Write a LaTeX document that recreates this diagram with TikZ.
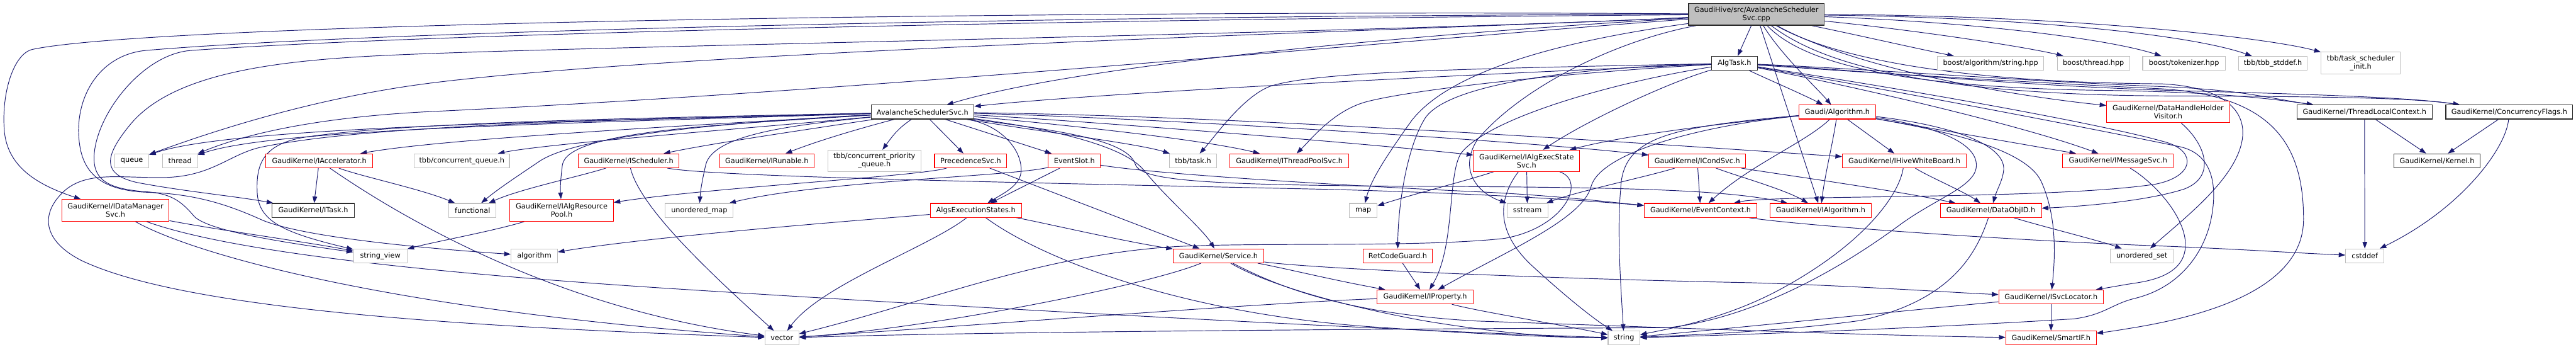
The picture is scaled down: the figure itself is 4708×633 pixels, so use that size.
\documentclass[tikz,border=0pt]{standalone}
\usepackage{fontspec}
\setmainfont{DejaVu Sans}
\usetikzlibrary{arrows.meta}
\definecolor{edgecol}{HTML}{191970}
\definecolor{graybd}{HTML}{BFBFBF}
\definecolor{redbd}{HTML}{FF0000}
\definecolor{blkbd}{HTML}{2B2B2B}
\definecolor{mainfill}{HTML}{BFBFBF}
\pgfdeclarelayer{bg}
\pgfsetlayers{bg,main}
\begin{document}
\begin{tikzpicture}[x=1pt,y=-1pt,
  box/.style={rectangle,draw,line width=1.2pt,fill=white,inner sep=0pt,align=center,
    font=\fontsize{13}{15}\selectfont,minimum height=25.5pt},
  gbox/.style={box,draw=graybd},
  rbox/.style={box,draw=redbd},
  kbox/.style={box,draw=blkbd},
  conn/.style={draw=edgecol,line width=1.1pt,-{Triangle[length=12pt,width=8.5pt]}}]
\useasboundingbox (0,0) rectangle (4708,633);
% ---------- nodes ----------
\node[kbox,fill=mainfill,line width=1.6pt,minimum width=248pt,minimum height=40pt] (M) at (3210,26) {GaudiHive/src/AvalancheScheduler\\Svc.cpp};
\node[kbox,minimum width=84pt] (AT) at (3170,115.5) {AlgTask.h};
\node[gbox,minimum width=195pt] (BAS) at (3638,115.5) {boost/algorithm/string.hpp};
\node[gbox,minimum width=132pt] (BT) at (3826,115.5) {boost/thread.hpp};
\node[gbox,minimum width=151pt] (BTK) at (3991.5,115.5) {boost/tokenizer.hpp};
\node[gbox,minimum width=126pt] (TSD) at (4154,115.5) {tbb/tbb\_stddef.h};
\node[gbox,minimum width=145pt,minimum height=40pt] (TSI) at (4314.5,115) {tbb/task\_scheduler\\\_init.h};
\node[kbox,minimum width=188pt] (ASH) at (1686,204.5) {AvalancheSchedulerSvc.h};
\node[rbox,minimum width=140pt] (GA) at (3358,204.5) {Gaudi/Algorithm.h};
\node[rbox,minimum width=225pt,minimum height=40pt] (DHV) at (3962.5,204) {GaudiKernel/DataHandleHolder\\Visitor.h};
\node[kbox,minimum width=247pt] (TLC) at (4321.5,204.5) {GaudiKernel/ThreadLocalContext.h};
\node[kbox,minimum width=232pt] (CF) at (4586,204.5) {GaudiKernel/ConcurrencyFlags.h};
\node[gbox,minimum width=62pt] (Q) at (241,293.5) {queue};
\node[gbox,minimum width=64pt] (TH) at (329,293.5) {thread};
\node[rbox,minimum width=195pt] (IACC) at (583.5,293.5) {GaudiKernel/IAccelerator.h};
\node[gbox,minimum width=174pt] (TCQ) at (844,293.5) {tbb/concurrent\_queue.h};
\node[rbox,minimum width=184pt] (ISCH) at (1149,293.5) {GaudiKernel/IScheduler.h};
\node[rbox,minimum width=173pt] (IRUN) at (1401.5,293.5) {GaudiKernel/IRunable.h};
\node[gbox,minimum width=170pt,minimum height=39pt] (TCPQ) at (1598,293.5) {tbb/concurrent\_priority\\\_queue.h};
\node[rbox,minimum width=132pt] (PRS) at (1774,293.5) {PrecedenceSvc.h};
\node[rbox,minimum width=95pt] (ES) at (1963.5,293.5) {EventSlot.h};
\node[gbox,minimum width=87pt] (TT) at (2180.5,293.5) {tbb/task.h};
\node[rbox,minimum width=217pt] (ITP) at (2356.5,293.5) {GaudiKernel/IThreadPoolSvc.h};
\node[rbox,minimum width=194pt,minimum height=39pt] (IAES) at (2790,293.5) {GaudiKernel/IAlgExecState\\Svc.h};
\node[rbox,minimum width=177pt] (ICS) at (3102,293.5) {GaudiKernel/ICondSvc.h};
\node[rbox,minimum width=227pt] (IHWB) at (3480.5,293.5) {GaudiKernel/IHiveWhiteBoard.h};
\node[rbox,minimum width=202pt] (IMS) at (3871,293.5) {GaudiKernel/IMessageSvc.h};
\node[kbox,minimum width=158pt] (KER) at (4454,293.5) {GaudiKernel/Kernel.h};
\node[rbox,minimum width=196pt,minimum height=40pt] (IDM) at (211,384) {GaudiKernel/IDataManager\\Svc.h};
\node[kbox,minimum width=151pt] (ITASK) at (572.5,384) {GaudiKernel/ITask.h};
\node[gbox,minimum width=86pt] (FUN) at (863.5,384) {functional};
\node[rbox,minimum width=189pt,minimum height=40pt] (IARP) at (1026.5,384) {GaudiKernel/IAlgResource\\Pool.h};
\node[gbox,minimum width=124pt] (UMAP) at (1278,384) {unordered\_map};
\node[rbox,minimum width=167pt] (AES) at (1783.5,384) {AlgsExecutionStates.h};
\node[gbox,minimum width=51pt] (MAP) at (2491.5,384) {map};
\node[gbox,minimum width=75pt] (SST) at (2791.5,384) {sstream};
\node[rbox,minimum width=206pt] (EC) at (3108,384) {GaudiKernel/EventContext.h};
\node[rbox,minimum width=185pt] (IALG) at (3327.5,384) {GaudiKernel/IAlgorithm.h};
\node[rbox,minimum width=185pt] (DOID) at (3638.5,384) {GaudiKernel/DataObjID.h};
\node[gbox,minimum width=98pt] (SV) at (695,467) {string\_view};
\node[gbox,minimum width=85pt] (ALGO) at (976.5,467) {algorithm};
\node[rbox,minimum width=166pt] (SVC) at (2227,467) {GaudiKernel/Service.h};
\node[rbox,minimum width=127pt] (RCG) at (2554.5,467) {RetCodeGuard.h};
\node[gbox,minimum width=115pt] (USET) at (3914.5,467) {unordered\_set};
\node[gbox,minimum width=70pt] (CSTD) at (4322,467) {cstddef};
\node[rbox,minimum width=175pt] (IPROP) at (2604.5,542) {GaudiKernel/IProperty.h};
\node[rbox,minimum width=191pt] (ISL) at (3748.5,542) {GaudiKernel/ISvcLocator.h};
\node[gbox,minimum width=62pt] (VEC) at (1429,617) {vector};
\node[gbox,minimum width=58pt] (STR) at (2968,617) {string};
\node[rbox,minimum width=165pt] (SIF) at (3748.5,617) {GaudiKernel/SmartIF.h};
% ---------- edges ----------
\begin{pgfonlayer}{bg}
\fill[white] (0,0) rectangle (4708,633);
% from main
\draw[conn] (M) -- (AT);
\draw[conn] (M) .. controls (3400,65) and (3500,88) .. (BAS);
\draw[conn] (M) .. controls (3500,55) and (3700,85) .. (BT);
\draw[conn] (M) .. controls (3600,40) and (3850,70) .. (BTK);
\draw[conn] (M) .. controls (3700,32) and (4000,62) .. (TSD);
\draw[conn] (M) .. controls (3800,28) and (4150,70) .. (TSI);
\draw[conn] (M) .. controls (3255,100) and (3320,160) .. (GA);
\draw[conn] (M) -- (IALG);
\draw[conn] (M) .. controls (3380,120) and (3650,172) .. (DHV);
\draw[conn] (M) .. controls (3290,110) and (3450,160) .. (3850,165) .. controls (4050,168) and (4150,180) .. (TLC);
\draw[conn] (M) .. controls (3320,110) and (3500,172) .. (3950,175) .. controls (4300,176) and (4420,180) .. (CF);
\draw[conn] (M) .. controls (3340,100) and (3550,150) .. (3950,153) .. controls (4060,158) and (4110,200) .. (4097,260) .. controls (4082,330) and (3990,400) .. (USET);
\draw[conn] (M) .. controls (2850,75) and (2650,130) .. (2580,220) .. controls (2530,290) and (2505,330) .. (MAP);
\draw[conn] (M) .. controls (2950,75) and (2780,160) .. (2700,255) .. controls (2665,310) and (2700,352) .. (SST);
\draw[conn] (M) .. controls (2700,55) and (2000,110) .. (ASH);
\draw[conn] (M) .. controls (2000,18) and (300,40) .. (60,90) .. controls (25,97) and (2,170) .. (8,240) .. controls (14,300) and (60,335) .. (IDM);
\draw[conn] (M) .. controls (2600,55) and (1300,90) .. (800,150) .. controls (600,174) and (420,228) .. (Q);
\draw[conn] (M) .. controls (2600,70) and (1600,165) .. (800,203) .. controls (600,212) and (460,240) .. (TH);
\draw[conn] (M) .. controls (2000,35) and (800,60) .. (350,92) .. controls (260,98) and (175,210) .. (172,285) .. controls (170,330) and (200,345) .. (267,350) .. controls (310,353) and (330,365) .. (355,395) .. controls (380,420) and (500,440) .. (SV);
\draw[conn] (M) .. controls (2000,28) and (700,55) .. (267,92) .. controls (180,100) and (135,180) .. (145,260) .. controls (152,320) and (190,348) .. (270,351) .. controls (360,354) and (420,375) .. (480,402) .. controls (560,435) and (800,455) .. (ALGO);
\draw[conn] (M) .. controls (2500,60) and (1200,82) .. (780,98) .. controls (560,106) and (330,120) .. (240,225) .. controls (190,285) and (185,318) .. (250,333) .. controls (340,350) and (430,358) .. (ITASK);
% from AlgTask.h
\draw[conn] (AT) .. controls (2700,135) and (2000,170) .. (ASH);
\draw[conn] (AT) .. controls (2700,125) and (2400,130) .. (2320,158) .. controls (2270,178) and (2220,250) .. (TT);
\draw[conn] (AT) .. controls (2900,130) and (2600,160) .. (2500,185) .. controls (2440,200) and (2400,250) .. (ITP);
\draw[conn] (AT) .. controls (3050,150) and (2900,220) .. (IAES);
\draw[conn] (AT) .. controls (2900,122) and (2650,150) .. (2605,215) .. controls (2570,270) and (2555,380) .. (RCG);
\draw[conn] (AT) .. controls (2950,150) and (2720,215) .. (2670,280) .. controls (2645,320) and (2660,450) .. (IPROP);
\draw[conn] (AT) .. controls (3220,140) and (3290,170) .. (GA);
\draw[conn] (AT) .. controls (3400,125) and (3700,148) .. (3950,158) .. controls (4100,164) and (4150,180) .. (TLC);
\draw[conn] (AT) .. controls (3400,128) and (3700,158) .. (4000,166) .. controls (4300,174) and (4420,180) .. (CF);
\draw[conn] (AT) .. controls (3500,165) and (3850,228) .. (3960,260) .. controls (4015,277) and (4010,322) .. (3940,336) .. controls (3750,365) and (3240,355) .. (EC);
\draw[conn] (AT) .. controls (3400,160) and (3700,230) .. (IMS);
\draw[conn] (AT) .. controls (3400,132) and (3700,150) .. (3950,162) .. controls (4150,175) and (4210,260) .. (4210,400) .. controls (4210,500) and (4100,565) .. (3900,598) .. controls (3870,603) and (3850,606) .. (SIF);
\draw[conn] (AT) .. controls (3500,172) and (3850,240) .. (3985,268) .. controls (4045,282) and (4052,340) .. (4042,395) .. controls (4030,460) and (3985,525) .. (3900,545) .. controls (3860,555) and (3845,575) .. (3790,582) .. controls (3500,600) and (3150,612) .. (STR);
% from Gaudi/Algorithm.h
\draw[conn] (GA) .. controls (3150,225) and (2980,245) .. (IAES);
\draw[conn] (GA) .. controls (3350,260) and (3335,320) .. (IALG);
\draw[conn] (GA) -- (IHWB);
\draw[conn] (GA) -- (IMS);
\draw[conn] (GA) .. controls (3560,228) and (3665,262) .. (3662,310) .. controls (3660,330) and (3650,345) .. (DOID);
\draw[conn] (GA) .. controls (3550,238) and (3700,270) .. (3730,330) .. controls (3760,395) and (3756,470) .. (ISL);
\draw[conn] (GA) .. controls (3300,260) and (3200,300) .. (EC);
\draw[conn] (GA) .. controls (3100,230) and (2925,280) .. (2908,340) .. controls (2893,400) and (2750,460) .. (IPROP);
\draw[conn] (GA) .. controls (3050,232) and (2965,250) .. (2962,345) .. controls (2955,420) and (2962,520) .. (STR);
\draw[conn] (GA) .. controls (3500,225) and (3610,250) .. (3612,300) .. controls (3614,340) and (3540,360) .. (3470,412) .. controls (3350,500) and (3200,580) .. (3050,598) .. controls (2600,600) and (1800,605) .. (VEC);
% from IAlgExecStateSvc.h
\draw[conn] (IAES) .. controls (2740,360) and (2730,420) .. (2800,485) .. controls (2860,540) and (2910,580) .. (STR);
\draw[conn] (IAES) .. controls (2680,330) and (2580,355) .. (MAP);
\draw[conn] (IAES) -- (SST);
\draw[conn] (IAES) .. controls (2900,330) and (2860,415) .. (2750,435) .. controls (2600,452) and (2300,442) .. (2150,450) .. controls (1900,465) and (1700,550) .. (VEC);
% from ICondSvc.h
\draw[conn] (ICS) .. controls (3170,320) and (3260,345) .. (IALG);
\draw[conn] (ICS) .. controls (3250,318) and (3450,345) .. (DOID);
\draw[conn] (ICS) -- (EC);
\draw[conn] (ICS) .. controls (3020,320) and (2880,350) .. (SST);
% from IHiveWhiteBoard.h
\draw[conn] (IHWB) .. controls (3520,320) and (3590,350) .. (DOID);
\draw[conn] (IHWB) .. controls (3470,360) and (3400,450) .. (3250,530) .. controls (3150,583) and (3050,600) .. (STR);
% from DataObjID.h
\draw[conn] (DOID) .. controls (3720,410) and (3840,440) .. (USET);
\draw[conn] (DOID) .. controls (3610,470) and (3560,550) .. (3400,585) .. controls (3250,606) and (3050,613) .. (STR);
% from IMessageSvc.h
\draw[conn] (IMS) .. controls (3940,335) and (3998,400) .. (3994,452) .. controls (3990,500) and (3935,512) .. (3900,517) .. controls (3880,520) and (3865,523) .. (ISL);
% from ISvcLocator.h
\draw[conn] (ISL) -- (SIF);
\draw[conn] (ISL) .. controls (3500,565) and (3200,596) .. (STR);
% from Service.h
\draw[conn] (SVC) .. controls (2350,490) and (2430,510) .. (IPROP);
\draw[conn] (SVC) .. controls (2400,490) and (2800,508) .. (3200,516) .. controls (3400,522) and (3550,533) .. (ISL);
\draw[conn] (SVC) .. controls (2290,505) and (2400,548) .. (2600,585) .. controls (2750,610) and (2850,616) .. (STR);
\draw[conn] (SVC) .. controls (2100,520) and (1700,600) .. (VEC);
\draw[conn] (SVC) .. controls (2330,520) and (2450,572) .. (2700,586) .. controls (3000,596) and (3400,612) .. (SIF);
% RetCodeGuard, IProperty
\draw[conn] (RCG) -- (IPROP);
\draw[conn] (IPROP) .. controls (2700,568) and (2850,592) .. (STR);
\draw[conn] (IPROP) .. controls (2300,553) and (1700,600) .. (VEC);
% from AlgsExecutionStates.h
\draw[conn] (AES) .. controls (1600,400) and (1200,430) .. (ALGO);
\draw[conn] (AES) .. controls (1700,450) and (1500,520) .. (VEC);
\draw[conn] (AES) .. controls (1900,470) and (2150,570) .. (2500,596) .. controls (2700,610) and (2850,616) .. (STR);
\draw[conn] (AES) .. controls (1900,405) and (2050,440) .. (SVC);
% from EventSlot.h
\draw[conn] (ES) -- (AES);
\draw[conn] (ES) .. controls (2100,316) and (2400,336) .. (2700,350) .. controls (2850,357) and (2950,370) .. (EC);
\draw[conn] (ES) .. controls (1850,322) and (1500,330) .. (UMAP);
% from PrecedenceSvc.h
\draw[conn] (PRS) -- (SVC);
\draw[conn] (PRS) .. controls (1680,322) and (1300,342) .. (IARP);
% from AvalancheSchedulerSvc.h
\draw[conn] (ASH) .. controls (1000,222) and (420,232) .. (Q);
\draw[conn] (ASH) .. controls (1000,226) and (500,236) .. (TH);
\draw[conn] (ASH) .. controls (1200,232) and (800,255) .. (IACC);
\draw[conn] (ASH) .. controls (1350,236) and (1000,262) .. (TCQ);
\draw[conn] (ASH) .. controls (1450,240) and (1300,262) .. (ISCH);
\draw[conn] (ASH) .. controls (1580,232) and (1500,255) .. (IRUN);
\draw[conn] (ASH) .. controls (1640,235) and (1630,250) .. (TCPQ);
\draw[conn] (ASH) -- (PRS);
\draw[conn] (ASH) -- (ES);
\draw[conn] (ASH) .. controls (1900,240) and (2080,262) .. (TT);
\draw[conn] (ASH) .. controls (1950,228) and (2200,255) .. (ITP);
\draw[conn] (ASH) .. controls (2000,222) and (2500,262) .. (IAES);
\draw[conn] (ASH) .. controls (2100,215) and (2800,258) .. (ICS);
\draw[conn] (ASH) .. controls (2300,212) and (3100,268) .. (IHWB);
\draw[conn] (ASH) .. controls (1900,235) and (2060,250) .. (2075,300) .. controls (2085,330) and (2200,338) .. (2600,340) .. controls (2950,342) and (3150,345) .. (IALG);
\draw[conn] (ASH) .. controls (1200,215) and (750,222) .. (560,250) .. controls (480,262) and (468,300) .. (470,350) .. controls (472,405) and (520,425) .. (SV);
\draw[conn] (ASH) .. controls (1200,218) and (700,224) .. (480,268) .. controls (420,280) and (390,322) .. (300,324) .. controls (220,325) and (160,312) .. (118,348) .. controls (72,390) and (78,440) .. (150,476) .. controls (350,570) and (900,598) .. (VEC);
\draw[conn] (ASH) .. controls (1300,225) and (1050,250) .. (985,295) .. controls (945,322) and (910,345) .. (FUN);
\draw[conn] (ASH) .. controls (1300,228) and (1040,240) .. (1028,300) .. controls (1024,330) and (1024,345) .. (IARP);
\draw[conn] (ASH) .. controls (1450,228) and (1305,245) .. (1290,300) .. controls (1283,330) and (1280,350) .. (UMAP);
\draw[conn] (ASH) .. controls (1830,228) and (1870,275) .. (1866,315) .. controls (1863,340) and (1830,355) .. (AES);
\draw[conn] (ASH) .. controls (1900,232) and (2050,262) .. (2090,310) .. controls (2130,360) and (2200,420) .. (SVC);
% from IAccelerator.h
\draw[conn] (IACC) -- (ITASK);
\draw[conn] (IACC) .. controls (660,322) and (770,345) .. (FUN);
\draw[conn] (IACC) .. controls (680,360) and (980,560) .. (VEC);
% from IScheduler.h
\draw[conn] (ISCH) .. controls (1060,322) and (950,345) .. (FUN);
\draw[conn] (ISCH) .. controls (1170,380) and (1300,500) .. (VEC);
\draw[conn] (ISCH) .. controls (1300,322) and (1800,332) .. (2400,345) .. controls (2700,352) and (2900,366) .. (EC);
% from IDataManagerSvc.h
\draw[conn] (IDM) .. controls (400,420) and (550,440) .. (SV);
\draw[conn] (IDM) .. controls (400,452) and (700,492) .. (1200,525) .. controls (1900,570) and (2600,605) .. (STR);
\draw[conn] (IDM) .. controls (350,462) and (700,565) .. (VEC);
% from IAlgResourcePool.h
\draw[conn] (IARP) .. controls (900,422) and (800,440) .. (SV);
% from EventContext.h
\draw[conn] (EC) .. controls (3300,413) and (3700,440) .. (3950,449) .. controls (4100,455) and (4200,462) .. (CSTD);
% ThreadLocalContext, ConcurrencyFlags, DataHandleHolderVisitor
\draw[conn] (TLC) -- (KER);
\draw[conn] (CF) -- (KER);
\draw[conn] (TLC) -- (CSTD);
\draw[conn] (CF) .. controls (4580,270) and (4500,380) .. (CSTD);
\draw[conn] (DHV) .. controls (4030,262) and (4052,322) .. (3992,345) .. controls (3920,368) and (3800,377) .. (DOID);
\end{pgfonlayer}
\end{tikzpicture}
\end{document}
